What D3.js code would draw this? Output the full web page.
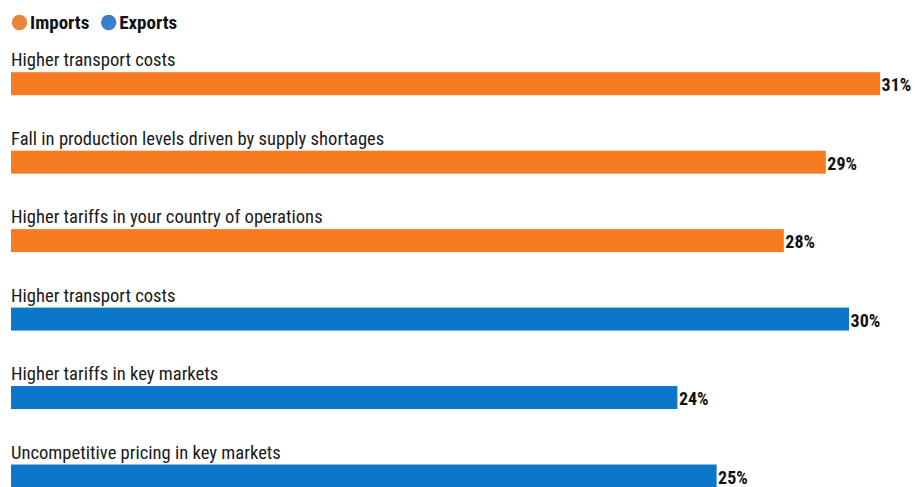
<!DOCTYPE html>
<html>
<head>
<meta charset="utf-8">
<script src="https://cdn.jsdelivr.net/npm/d3@7"></script>
<style>
  html, body { margin: 0; padding: 0; background: #fff; }
  svg { display: block; }
</style>
</head>
<body>
<svg id="chart" width="915" height="487"></svg>
<script>
const categories = [
  "Higher transport costs",
  "Fall in production levels driven by supply shortages",
  "Higher tariffs in your country of operations",
  "Higher transport costs",
  "Higher tariffs in key markets",
  "Uncompetitive pricing in key markets"
];
const groups = ["Imports", "Imports", "Imports", "Exports", "Exports", "Exports"];
const values = [31.04, 29.1, 27.6, 29.93, 23.8, 25.2];
const seriesNames = ["Imports", "Exports"];
const seriesColors = ["#F67B21", "#0C77C8"];
const legendColors = ["#EA843D", "#3A7ECF"];

const svg = d3.select("#chart");
const font = "'Roboto Condensed', 'DejaVu Sans Condensed', sans-serif";

const x = d3.scaleLinear().domain([0, 31]).range([11, 11 + 31 * 28]);
const y = d3.scaleBand()
  .domain(d3.range(categories.length))
  .range([72.2, 487.5])
  .paddingInner(0.707)
  .paddingOuter(0);
const color = d3.scaleOrdinal().domain(seriesNames).range(seriesColors);
const legendColor = d3.scaleOrdinal().domain(seriesNames).range(legendColors);

// Legend
const legend = svg.append("g");
let lx = 19.5;
seriesNames.forEach((name, i) => {
  legend.append("circle")
    .attr("cx", lx).attr("cy", 22.5).attr("r", 7.7)
    .attr("fill", legendColor(name));
  const t = legend.append("text")
    .attr("x", lx + 10.5).attr("y", 29.3)
    .attr("font-family", font).attr("font-weight", "bold")
    .attr("font-size", 19).attr("fill", "#111")
    .text(name);
  lx += 10.5 + t.node().getComputedTextLength() + 19.4;
});

const rows = svg.append("g").selectAll("g")
  .data(categories.map((c, i) => ({ c, i, g: groups[i], v: values[i] })))
  .join("g");

rows.append("text")
  .attr("x", 11)
  .attr("y", d => y(d.i) - 6)
  .attr("font-family", font)
  .attr("font-size", 18.6)
  .attr("fill", "#1a1a1a")
  .text(d => d.c);

rows.append("rect")
  .attr("x", x(0))
  .attr("y", d => y(d.i))
  .attr("width", d => x(d.v) - x(0))
  .attr("height", y.bandwidth())
  .attr("fill", d => color(d.g));

rows.append("text")
  .attr("x", d => x(d.v) + 1.5)
  .attr("y", d => y(d.i) + y.bandwidth() / 2 + 7.5)
  .attr("font-family", font)
  .attr("font-weight", "bold")
  .attr("font-size", 18)
  .attr("fill", "#111")
  .text(d => d3.format(".0f")(d.v) + "%");
</script>
</body>
</html>
